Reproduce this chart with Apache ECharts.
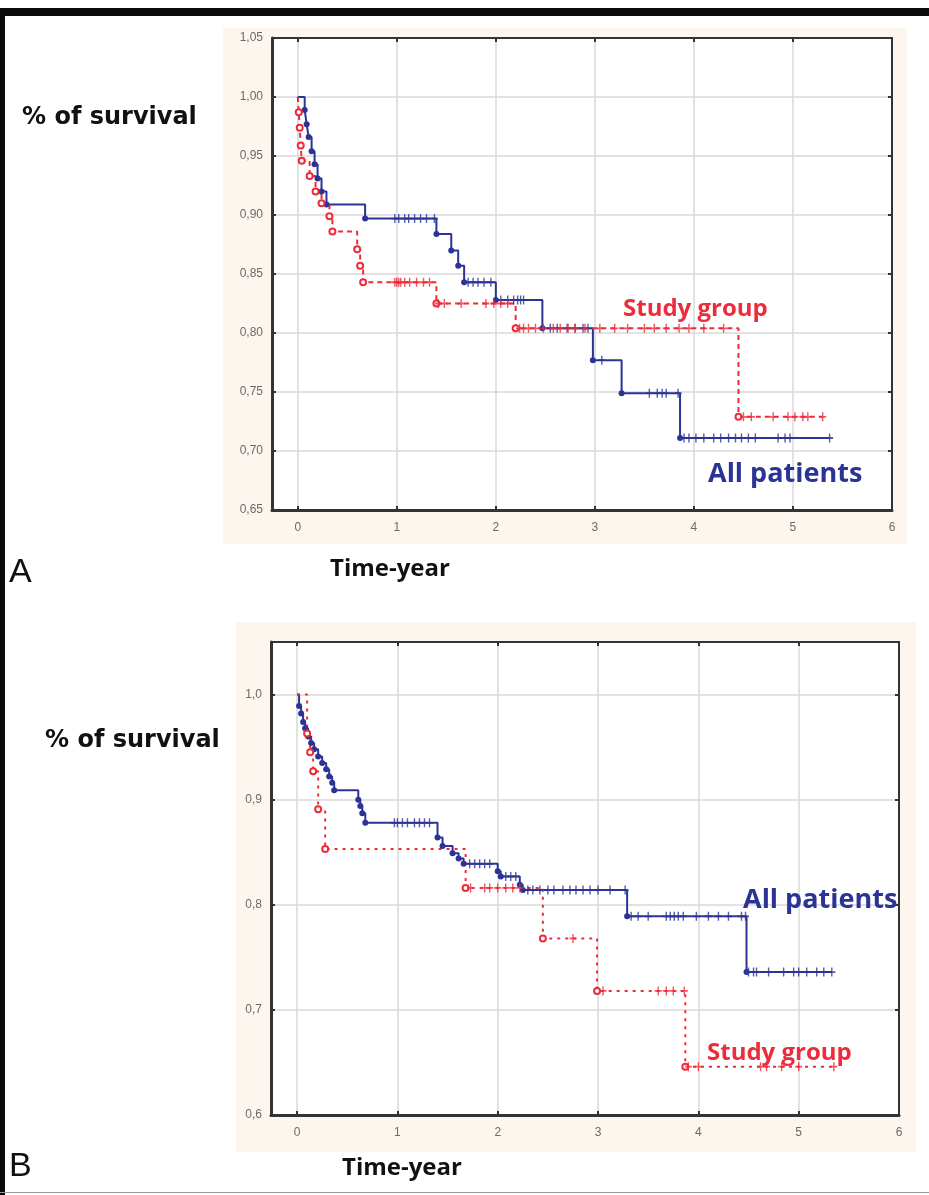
<!DOCTYPE html>
<html><head><meta charset="utf-8">
<script src="https://cdn.jsdelivr.net/npm/echarts@6/dist/echarts.min.js"></script>
<style>html,body{margin:0;padding:0;background:#fff}#c{width:929px;height:1195px}</style>
</head><body><div id="c"></div>
<script>
// ---------- DATA ----------
var xTickValues = [0, 1, 2, 3, 4, 5, 6];
var yTicksA = [0.65, 0.70, 0.75, 0.80, 0.85, 0.90, 0.95, 1.00, 1.05];
var yTicksB = [0.6, 0.7, 0.8, 0.9, 1.0];

// Panel A – All patients (event times / survival after event)
var blueA_t = [0, 0.07, 0.09, 0.11, 0.14, 0.17, 0.20, 0.24, 0.29, 0.68, 1.40, 1.55, 1.62, 1.68, 2.00, 2.47, 2.98, 3.27, 3.86, 5.37];
var blueA_s = [1.000, 0.989, 0.977, 0.966, 0.954, 0.943, 0.931, 0.920, 0.909, 0.897, 0.884, 0.870, 0.857, 0.843, 0.828, 0.804, 0.777, 0.749, 0.711, 0.711];
var blueA_censLevels = [0.897, 0.843, 0.828, 0.804, 0.777, 0.749, 0.711];
var blueA_censTimes = [
  [0.98, 1.02, 1.08, 1.12, 1.18, 1.24, 1.30, 1.38],
  [1.72, 1.77, 1.82, 1.88, 1.95],
  [2.05, 2.12, 2.18, 2.22, 2.25, 2.28],
  [2.55, 2.62, 2.72, 2.80, 2.88, 2.93],
  [3.07],
  [3.55, 3.63, 3.68, 3.72, 3.84],
  [3.90, 3.95, 4.02, 4.10, 4.20, 4.27, 4.35, 4.42, 4.48, 4.55, 4.62, 4.85, 4.92, 4.97, 5.37]
];

// Panel A – Study group
var redA_t = [0, 0.01, 0.02, 0.03, 0.04, 0.12, 0.18, 0.24, 0.32, 0.35, 0.60, 0.63, 0.66, 1.40, 2.20, 4.45, 5.30];
var redA_s = [1.000, 0.987, 0.974, 0.959, 0.946, 0.933, 0.920, 0.910, 0.899, 0.886, 0.871, 0.857, 0.843, 0.825, 0.804, 0.729, 0.729];
var redA_censLevels = [0.843, 0.825, 0.804, 0.729];
var redA_censTimes = [
  [0.98, 1.00, 1.02, 1.04, 1.08, 1.13, 1.20, 1.27, 1.33],
  [1.42, 1.48, 1.65, 1.90, 1.98, 2.05, 2.12],
  [2.24, 2.28, 2.33, 2.40, 2.48, 2.58, 2.65, 2.73, 2.80, 2.90, 3.05, 3.20, 3.33, 3.50, 3.60, 3.72, 3.85, 3.95, 4.10, 4.30],
  [4.50, 4.58, 4.80, 4.95, 5.02, 5.10, 5.15, 5.30]
];

// Panel B – All patients
var blueB_t = [0, 0.02, 0.04, 0.06, 0.08, 0.11, 0.14, 0.17, 0.21, 0.25, 0.29, 0.32, 0.35, 0.37, 0.61, 0.63, 0.65, 0.68, 1.40, 1.45, 1.55, 1.61, 1.66, 2.00, 2.03, 2.22, 2.25, 3.29, 4.48, 5.33];
var blueB_s = [1.000, 0.989, 0.982, 0.974, 0.968, 0.960, 0.954, 0.948, 0.941, 0.935, 0.929, 0.922, 0.916, 0.909, 0.900, 0.894, 0.887, 0.878, 0.864, 0.856, 0.849, 0.844, 0.839, 0.832, 0.827, 0.819, 0.814, 0.789, 0.736, 0.736];
var blueB_censLevels = [0.878, 0.839, 0.827, 0.814, 0.789, 0.736];
var blueB_censTimes = [
  [0.97, 1.00, 1.05, 1.10, 1.17, 1.22, 1.27, 1.32],
  [1.72, 1.77, 1.82, 1.87, 1.92],
  [2.08, 2.13, 2.18],
  [2.30, 2.35, 2.42, 2.50, 2.56, 2.65, 2.72, 2.78, 2.85, 2.92, 3.00, 3.12, 3.27],
  [3.33, 3.40, 3.50, 3.68, 3.72, 3.76, 3.80, 3.85, 3.98, 4.10, 4.20, 4.30, 4.43, 4.47],
  [4.50, 4.55, 4.58, 4.70, 4.85, 4.95, 5.00, 5.08, 5.18, 5.25, 5.33]
];

// Panel B – Study group
var redB_t = [0, 0.10, 0.13, 0.16, 0.21, 0.28, 1.68, 2.45, 2.99, 3.87, 5.38];
var redB_s = [1.000, 0.963, 0.945, 0.927, 0.891, 0.853, 0.816, 0.768, 0.718, 0.646, 0.646];
var redB_censLevels = [0.816, 0.768, 0.718, 0.646];
var redB_censTimes = [
  [1.73, 1.87, 1.92, 2.00, 2.08, 2.15, 2.22],
  [2.75],
  [3.05, 3.60, 3.68, 3.75, 3.86],
  [3.90, 4.00, 4.62, 4.68, 4.83, 5.00, 5.35]
];

// ---------- BUILD ----------
var BLUE = '#2b3494', RED = '#ec2c3a';
function pairs(t, s) { return t.map(function (v, i) { return [v, s[i]]; }); }
function cens(levels, times) {
  var out = [];
  levels.forEach(function (lv, i) { times[i].forEach(function (t) { out.push([t, lv]); }); });
  return out;
}
var plusPath = 'path://M4,0H6V4H10V6H6V10H4V6H0V4H4Z';

function xAxes(gi) {
  return [{
    gridIndex: gi, type: 'value', min: -0.26, max: 6,
    axisLine: { show: true, onZero: false, lineStyle: { color: '#333', width: 3 } },
    axisTick: { show: true, inside: true, length: 4, customValues: xTickValues, lineStyle: { color: '#333', width: 2 } },
    axisLabel: { customValues: xTickValues, color: '#6a6a6a', fontSize: 12, margin: 12, fontFamily: 'Liberation Sans' },
    splitLine: { show: true, lineStyle: { color: '#d9d9d9', width: 1.5 } }
  }, {
    gridIndex: gi, type: 'value', min: -0.26, max: 6, position: 'top',
    axisLine: { show: true, onZero: false, lineStyle: { color: '#333', width: 2 } },
    axisTick: { show: true, inside: true, length: 4, customValues: xTickValues, lineStyle: { color: '#333', width: 2 } },
    axisLabel: { show: false }, splitLine: { show: false }
  }];
}
function yAxes(gi, min, max, ticks, dec) {
  return [{
    gridIndex: gi, type: 'value', min: min, max: max,
    axisLine: { show: true, onZero: false, lineStyle: { color: '#333', width: 3 } },
    axisTick: { show: true, inside: true, length: 4, customValues: ticks, lineStyle: { color: '#333', width: 2 } },
    axisLabel: { customValues: ticks, color: '#6a6a6a', fontSize: 12, margin: 9, fontFamily: 'Liberation Sans',
      formatter: function (v) { return v.toFixed(dec).replace('.', ','); } },
    splitLine: { show: true, lineStyle: { color: '#d9d9d9', width: 1.5 } }
  }, {
    gridIndex: gi, type: 'value', min: min, max: max, position: 'right',
    axisLine: { show: true, onZero: false, lineStyle: { color: '#333', width: 2 } },
    axisTick: { show: true, inside: true, length: 4, customValues: ticks, lineStyle: { color: '#333', width: 2 } },
    axisLabel: { show: false }, splitLine: { show: false }
  }];
}
function kmLine(xi, yi, t, s, color, dash, hollow) {
  var n = t.length;
  return {
    type: 'line', xAxisIndex: xi, yAxisIndex: yi, step: 'end', data: pairs(t, s), animation: false,
    symbol: function (v, p) { return (p.dataIndex === 0 || p.dataIndex === n - 1) ? 'none' : (hollow ? 'emptyCircle' : 'circle'); },
    symbolSize: 6, showAllSymbol: true,
    lineStyle: { color: color, width: 2, type: dash }, itemStyle: { color: color, borderWidth: 1.5 }, z: 3
  };
}
function censSeries(xi, yi, data, color) {
  return { type: 'scatter', xAxisIndex: xi, yAxisIndex: yi, data: data, symbol: plusPath, symbolSize: [7, 9],
    itemStyle: { color: color }, animation: false, z: 4 };
}

var labelFont = 'bold 24px "DejaVu Sans"';
var timeFont = 'bold 24px "Open Sans"';
var option = {
  backgroundColor: '#fff',
  grid: [
    { left: 272, top: 38, width: 620, height: 472, show: true, backgroundColor: '#fff', borderWidth: 0 },
    { left: 271, top: 642, width: 628, height: 473, show: true, backgroundColor: '#fff', borderWidth: 0 }
  ],
  xAxis: xAxes(0).concat(xAxes(1)),
  yAxis: yAxes(0, 0.65, 1.05, yTicksA, 2).concat(yAxes(1, 0.6, 1.05, yTicksB, 1)),
  series: [
    kmLine(0, 0, blueA_t, blueA_s, BLUE, 'solid', false),
    kmLine(0, 0, redA_t, redA_s, RED, [5, 4], true),
    censSeries(0, 0, cens(blueA_censLevels, blueA_censTimes), BLUE),
    censSeries(0, 0, cens(redA_censLevels, redA_censTimes), RED),
    kmLine(2, 2, blueB_t, blueB_s, BLUE, 'solid', false),
    kmLine(2, 2, redB_t, redB_s, RED, [3, 5], true),
    censSeries(2, 2, cens(blueB_censLevels, blueB_censTimes), BLUE),
    censSeries(2, 2, cens(redB_censLevels, redB_censTimes), RED)
  ],
  graphic: [
    { type: 'rect', shape: { x: 223, y: 28, width: 684, height: 516 }, style: { fill: '#fcf6ee' }, z: -10, silent: true },
    { type: 'rect', shape: { x: 236, y: 622, width: 680, height: 530 }, style: { fill: '#fcf6ee' }, z: -10, silent: true },
    { type: 'rect', shape: { x: 0, y: 8, width: 929, height: 8 }, style: { fill: '#0b0b0b' }, z: 10, silent: true },
    { type: 'rect', shape: { x: 0, y: 8, width: 5, height: 1187 }, style: { fill: '#0b0b0b' }, z: 10, silent: true },
    { type: 'rect', shape: { x: 0, y: 1192, width: 929, height: 1 }, style: { fill: '#9a9a9a' }, z: 10, silent: true },
    { type: 'text', x: 22, y: 118, style: { text: '% of survival', font: labelFont, fill: '#111', verticalAlign: 'middle' }, z: 10 },
    { type: 'text', x: 45, y: 741, style: { text: '% of survival', font: labelFont, fill: '#111', verticalAlign: 'middle' }, z: 10 },
    { type: 'text', x: 330, y: 569, style: { text: 'Time-year', font: timeFont, fill: '#111', verticalAlign: 'middle' }, z: 10 },
    { type: 'text', x: 342, y: 1168, style: { text: 'Time-year', font: timeFont, fill: '#111', verticalAlign: 'middle' }, z: 10 },
    { type: 'text', x: 9, y: 573, style: { text: 'A', font: '34px "Liberation Sans"', fill: '#111', verticalAlign: 'middle' }, z: 10 },
    { type: 'text', x: 9, y: 1167, style: { text: 'B', font: '34px "Liberation Sans"', fill: '#111', verticalAlign: 'middle' }, z: 10 },
    { type: 'text', x: 623, y: 309, style: { text: 'Study group', font: 'bold 24px "Open Sans"', fill: RED, verticalAlign: 'middle' }, z: 10 },
    { type: 'text', x: 708, y: 474, style: { text: 'All patients', font: 'bold 27px "Open Sans"', fill: BLUE, verticalAlign: 'middle' }, z: 10 },
    { type: 'text', x: 743, y: 900, style: { text: 'All patients', font: 'bold 27px "Open Sans"', fill: BLUE, verticalAlign: 'middle' }, z: 10 },
    { type: 'text', x: 707, y: 1053, style: { text: 'Study group', font: 'bold 24px "Open Sans"', fill: RED, verticalAlign: 'middle' }, z: 10 }
  ]
};
var chart = echarts.init(document.getElementById('c'), null, { renderer: 'canvas' });
chart.setOption(option);
</script></body></html>
